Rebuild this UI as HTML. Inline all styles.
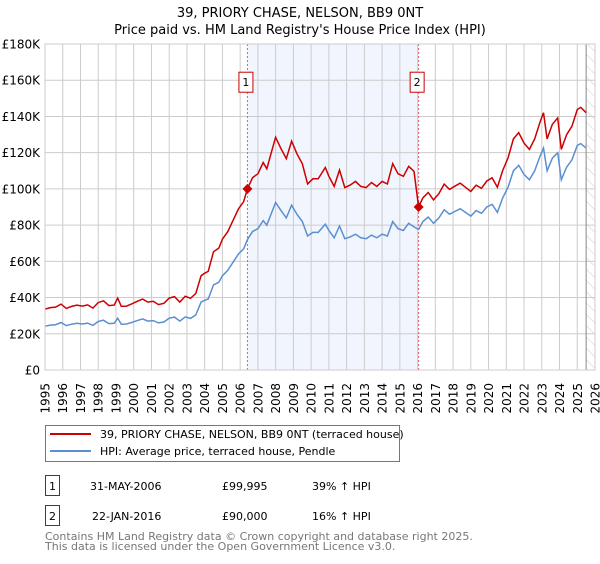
<!DOCTYPE html>
<html><head><meta charset="utf-8">
<style>
body{margin:0;background:#fff;font-family:"DejaVu Sans","Liberation Sans",sans-serif;}
svg text{font-family:"DejaVu Sans","Liberation Sans",sans-serif;}
</style></head>
<body>
<svg id="chart" width="600" height="560" xmlns="http://www.w3.org/2000/svg">
<defs>
<pattern id="hatch" width="8" height="8" patternUnits="userSpaceOnUse" patternTransform="rotate(-45)">
<line x1="0" y1="0" x2="0" y2="8" stroke="#ccc" stroke-width="1"/>
</pattern>
</defs>
<text x="300" y="17" text-anchor="middle" font-size="13">39, PRIORY CHASE, NELSON, BB9 0NT</text>
<text x="300" y="34" text-anchor="middle" font-size="13">Price paid vs. HM Land Registry's House Price Index (HPI)</text>
<g id="plot"></g>
<g>
<rect x="45.5" y="425.5" width="354" height="36" fill="#fff" stroke="#777"/>
<line x1="50" y1="434" x2="91" y2="434" stroke="#cc0000" stroke-width="2"/>
<text x="100" y="438" font-size="11">39, PRIORY CHASE, NELSON, BB9 0NT (terraced house)</text>
<line x1="50" y1="451" x2="91" y2="451" stroke="#5b8fd0" stroke-width="2"/>
<text x="100" y="455" font-size="11">HPI: Average price, terraced house, Pendle</text>
</g>
<g>
<rect x="45.5" y="475.5" width="14" height="20" fill="#fff" stroke="#cc0000"/>
<text x="52.5" y="490" font-size="11" text-anchor="middle">1</text>
<text x="90" y="490" font-size="11">31-MAY-2006</text>
<text x="222" y="490" font-size="11">£99,995</text>
<text x="312" y="490" font-size="11">39% ↑ HPI</text>
<rect x="45.5" y="505.5" width="14" height="20" fill="#fff" stroke="#cc0000"/>
<text x="52.5" y="520" font-size="11" text-anchor="middle">2</text>
<text x="92" y="520" font-size="11">22-JAN-2016</text>
<text x="222" y="520" font-size="11">£90,000</text>
<text x="312" y="520" font-size="11">16% ↑ HPI</text>
</g>
<text x="45" y="540" font-size="11" fill="#777">Contains HM Land Registry data © Crown copyright and database right 2025.</text>
<text x="45" y="550" font-size="11" fill="#777">This data is licensed under the Open Government Licence v3.0.</text>
</svg>
<script>
const yTicks=[0,20,40,60,80,100,120,140,160,180];
const yTickLabels=["£0","£20K","£40K","£60K","£80K","£100K","£120K","£140K","£160K","£180K"];
const years=[1995,1996,1997,1998,1999,2000,2001,2002,2003,2004,2005,2006,2007,2008,2009,2010,2011,2012,2013,2014,2015,2016,2017,2018,2019,2020,2021,2022,2023,2024,2025,2026];
const hpiDates=[1995.0,1995.3,1995.6,1995.9,1996.2,1996.5,1996.8,1997.1,1997.4,1997.7,1998.0,1998.3,1998.6,1998.9,1999.1,1999.3,1999.6,1999.9,2000.2,2000.5,2000.8,2001.1,2001.4,2001.7,2002.0,2002.3,2002.6,2002.9,2003.2,2003.5,2003.8,2004.0,2004.2,2004.5,2004.8,2005.0,2005.3,2005.6,2005.9,2006.2,2006.41,2006.7,2007.0,2007.3,2007.5,2007.7,2008.0,2008.3,2008.6,2008.9,2009.2,2009.5,2009.8,2010.1,2010.4,2010.8,2011.0,2011.3,2011.6,2011.9,2012.2,2012.5,2012.8,2013.1,2013.4,2013.7,2014.0,2014.3,2014.6,2014.9,2015.2,2015.5,2015.8,2016.06,2016.3,2016.6,2016.9,2017.2,2017.5,2017.8,2018.1,2018.4,2018.7,2019.0,2019.3,2019.6,2019.9,2020.2,2020.5,2020.8,2021.1,2021.4,2021.7,2022.0,2022.3,2022.6,2022.9,2023.1,2023.3,2023.6,2023.9,2024.1,2024.4,2024.7,2025.0,2025.2,2025.5];
const hpiValues=[24.2,24.8,25.0,26.2,24.5,25.3,25.8,25.4,25.9,24.6,26.8,27.5,25.6,25.8,28.6,25.3,25.4,26.3,27.3,28.2,27.0,27.3,26.0,26.5,28.6,29.2,27.0,29.3,28.5,30.4,37.5,38.5,39.2,47.0,48.5,52.0,55.0,59.5,64.0,67.0,72.0,76.5,78.0,82.5,80.0,85.0,92.5,88.0,84.0,91.0,86.0,82.0,74.0,76.0,76.0,80.5,77.0,73.0,79.5,72.5,73.5,75.0,73.0,72.5,74.5,73.0,75.0,74.0,82.0,78.0,77.0,81.0,79.0,77.6,82.0,84.5,81.0,84.0,88.5,86.0,87.5,89.0,87.0,85.0,88.0,86.5,90.0,91.5,87.0,95.0,101.0,110.0,113.0,108.0,105.0,110.0,118.0,122.5,110.0,117.0,120.0,105.0,112.0,116.0,124.0,125.0,122.5];
const saleDates=[2006.41,2016.06];
const salePrices=[99.995,90.0];
const saleLabels=["1","2"];

const X0=45,X1=595,Y0=370,Y1=44;
const xs=t=>X0+(t-1995)/(2026-1995)*(X1-X0);
const ys=v=>Y0-v/180*(Y0-Y1);
const NS="http://www.w3.org/2000/svg";
const plot=document.getElementById('plot');
function mk(tag,attrs,parent){const e=document.createElementNS(NS,tag);for(const k in attrs)e.setAttribute(k,attrs[k]);(parent||plot).appendChild(e);return e;}
function hpiAt(t){for(let i=1;i<hpiDates.length;i++){if(t<=hpiDates[i]){const f=(t-hpiDates[i-1])/(hpiDates[i]-hpiDates[i-1]);return hpiValues[i-1]+f*(hpiValues[i]-hpiValues[i-1]);}}return hpiValues[hpiValues.length-1];}

let r=mk('rect',{x:xs(saleDates[0]),y:Y1,width:xs(saleDates[1])-xs(saleDates[0]),height:Y0-Y1,fill:'#eef2fd',opacity:0.8});


let h=mk('rect',{x:xs(2025.5),y:Y1,width:X1-xs(2025.5),height:Y0-Y1,fill:'url(#hatch)'});


yTicks.forEach((v,i)=>{
 const l=mk('line',{x1:X0,x2:X1,y1:ys(v),y2:ys(v),stroke:'#ccc','stroke-width':1});
 
 
 const t=mk('text',{x:X0-5,y:ys(v)+4.5,'text-anchor':'end','font-size':12});
 t.textContent=yTickLabels[i];
 
 
});
years.forEach(yr=>{
 const l=mk('line',{x1:xs(yr),x2:xs(yr),y1:Y1,y2:Y0,stroke:'#ccc','stroke-width':1});
 
 
 const tx=xs(yr)+4.5, ty=Y0+13;
 const t=mk('text',{x:tx,y:ty,'text-anchor':'end','font-size':12,transform:`rotate(-90 ${tx} ${ty})`});
 t.textContent=yr;
 
 
});
let nl=mk('line',{x1:xs(2025.5),x2:xs(2025.5),y1:Y1,y2:Y0,stroke:'#888','stroke-width':1});


saleDates.forEach((d,i)=>{
 const l=mk('line',{x1:xs(d),x2:xs(d),y1:Y1,y2:Y0,stroke:'#e06060','stroke-width':1,'stroke-dasharray':'2,2'});
 
 
 const b=mk('rect',{x:xs(d)-8.5,y:ys(160)-8,width:14,height:20,fill:'#fff',stroke:'#cc0000'});
 
 
 const t=mk('text',{x:xs(d)-1.5,y:ys(160)+6,'text-anchor':'middle','font-size':11});
 t.textContent=saleLabels[i];
 
 
});
let hp=hpiDates.map((d,i)=>xs(d).toFixed(1)+','+ys(hpiValues[i]).toFixed(1)).join(' ');
let hl=mk('polyline',{points:hp,fill:'none',stroke:'#5b8fd0','stroke-width':1.5});


const r1=salePrices[0]/hpiAt(saleDates[0]), r2=salePrices[1]/hpiAt(saleDates[1]);
let rp=hpiDates.map((d,i)=>{const v=hpiValues[i]*(d<saleDates[1]?r1:r2);return xs(d).toFixed(1)+','+ys(v).toFixed(1);});
let pl=mk('polyline',{points:rp.join(' '),fill:'none',stroke:'#cc0000','stroke-width':1.5});


saleDates.forEach((d,i)=>{
 const cx=xs(d),cy=ys(salePrices[i]);
 const p=mk('polygon',{points:`${cx},${cy-5} ${cx+5},${cy} ${cx},${cy+5} ${cx-5},${cy}`,fill:'#cc0000'});
 
 
});
let ax=mk('rect',{x:X0,y:Y1,width:X1-X0,height:Y0-Y1,fill:'none',stroke:'#ccc'});


</script>
</body></html>
